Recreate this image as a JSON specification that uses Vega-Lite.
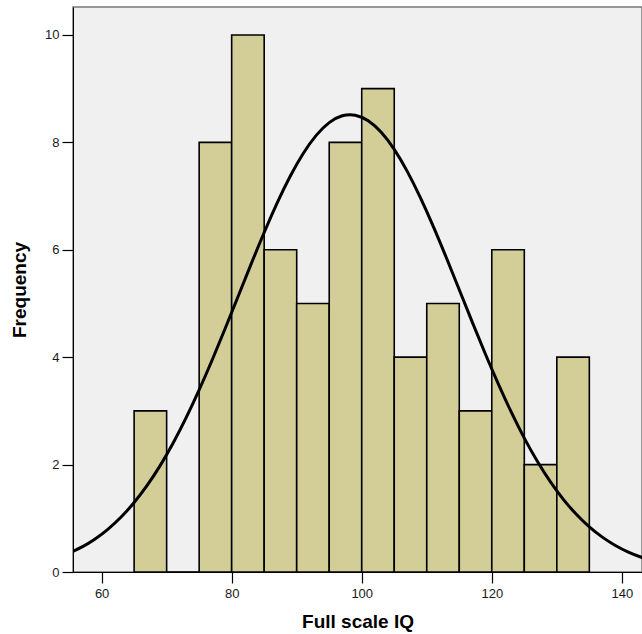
{
  "$schema": "https://vega.github.io/schema/vega-lite/v6.json",
  "autosize": "none",
  "width": 569,
  "height": 565,
  "padding": {"left": 73, "top": 7, "right": 0, "bottom": 62},
  "background": "white",
  "config": {
    "view": {"fill": "#f0f0f0", "stroke": "#7a7a7a", "strokeWidth": 1.5},
    "font": "Liberation Sans",
    "axis": {
      "grid": false,
      "domainColor": "black",
      "domainWidth": 1,
      "tickColor": "black",
      "tickWidth": 1.2,
      "tickSize": 11,
      "labelFont": "Liberation Sans",
      "labelFontSize": 13,
      "labelColor": "#1a1a1a",
      "titleFont": "Liberation Sans",
      "titleFontSize": 19,
      "titleFontWeight": "bold",
      "titleColor": "black"
    }
  },
  "datasets": {
    "bars": [
      {"lo": 65, "hi": 70, "count": 3},
      {"lo": 70, "hi": 75, "count": 0},
      {"lo": 75, "hi": 80, "count": 8},
      {"lo": 80, "hi": 85, "count": 10},
      {"lo": 85, "hi": 90, "count": 6},
      {"lo": 90, "hi": 95, "count": 5},
      {"lo": 95, "hi": 100, "count": 8},
      {"lo": 100, "hi": 105, "count": 9},
      {"lo": 105, "hi": 110, "count": 4},
      {"lo": 110, "hi": 115, "count": 5},
      {"lo": 115, "hi": 120, "count": 3},
      {"lo": 120, "hi": 125, "count": 6},
      {"lo": 125, "hi": 130, "count": 2},
      {"lo": 130, "hi": 135, "count": 4}
    ],
    "curve": [
      {"iq": 55, "freq": 0.350}, {"iq": 57, "freq": 0.467}, {"iq": 59, "freq": 0.615},
      {"iq": 61, "freq": 0.799}, {"iq": 63, "freq": 1.024}, {"iq": 65, "freq": 1.293},
      {"iq": 67, "freq": 1.612}, {"iq": 69, "freq": 1.981}, {"iq": 71, "freq": 2.403},
      {"iq": 73, "freq": 2.875}, {"iq": 75, "freq": 3.392}, {"iq": 77, "freq": 3.948},
      {"iq": 79, "freq": 4.534}, {"iq": 81, "freq": 5.134}, {"iq": 83, "freq": 5.736},
      {"iq": 85, "freq": 6.321}, {"iq": 87, "freq": 6.871}, {"iq": 89, "freq": 7.368},
      {"iq": 91, "freq": 7.793}, {"iq": 93, "freq": 8.130}, {"iq": 95, "freq": 8.367},
      {"iq": 97, "freq": 8.494}, {"iq": 99, "freq": 8.506}, {"iq": 101, "freq": 8.402},
      {"iq": 103, "freq": 8.186}, {"iq": 105, "freq": 7.868}, {"iq": 107, "freq": 7.459},
      {"iq": 109, "freq": 6.975}, {"iq": 111, "freq": 6.435}, {"iq": 113, "freq": 5.855},
      {"iq": 115, "freq": 5.255}, {"iq": 117, "freq": 4.653}, {"iq": 119, "freq": 4.063},
      {"iq": 121, "freq": 3.501}, {"iq": 123, "freq": 2.975}, {"iq": 125, "freq": 2.493},
      {"iq": 127, "freq": 2.062}, {"iq": 129, "freq": 1.682}, {"iq": 131, "freq": 1.353},
      {"iq": 133, "freq": 1.074}, {"iq": 135, "freq": 0.840}, {"iq": 137, "freq": 0.649},
      {"iq": 139, "freq": 0.494}, {"iq": 141, "freq": 0.371}, {"iq": 143, "freq": 0.275},
      {"iq": 145, "freq": 0.201}
    ]
  },
  "layer": [
    {
      "data": {"name": "bars"},
      "mark": {"type": "rect", "fill": "#d3ce98", "stroke": "black", "strokeWidth": 1.6},
      "encoding": {
        "x": {
          "field": "lo", "type": "quantitative",
          "scale": {"domain": [55.6, 143.1], "nice": false, "zero": false},
          "axis": {"values": [60, 80, 100, 120, 140], "format": "d", "title": "Full scale IQ", "labelPadding": 4, "titlePadding": 12}
        },
        "x2": {"field": "hi"},
        "y": {
          "field": "count", "type": "quantitative",
          "scale": {"domain": [0, 10.52], "nice": false},
          "axis": {"values": [0, 2, 4, 6, 8, 10], "format": "d", "title": "Frequency", "labelPadding": 3, "titlePadding": 15}
        },
        "y2": {"datum": 0}
      }
    },
    {
      "data": {"name": "curve"},
      "mark": {"type": "line", "color": "black", "strokeWidth": 3, "interpolate": "natural", "clip": true},
      "encoding": {
        "x": {"field": "iq", "type": "quantitative"},
        "y": {"field": "freq", "type": "quantitative"}
      }
    }
  ]
}
